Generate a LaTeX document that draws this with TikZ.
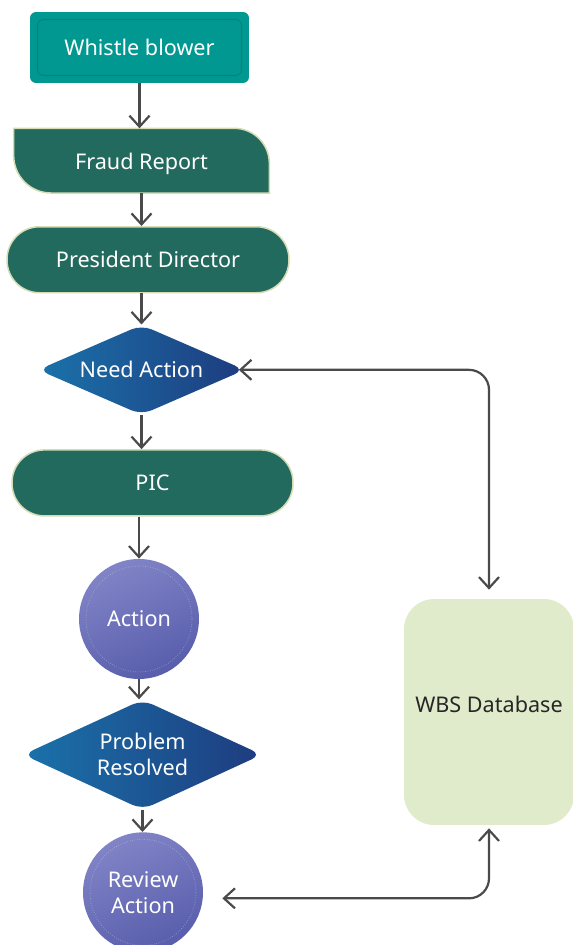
\documentclass[tikz,border=0pt]{standalone}
\usepackage{fontspec}
\setmainfont{Noto Sans}
\usetikzlibrary{shapes.geometric, arrows.meta, positioning, backgrounds}
\definecolor{blowerteal}{HTML}{009890}
\definecolor{blowerline}{HTML}{00857E}
\definecolor{reportgreen}{HTML}{236A5E}
\definecolor{paleedge}{HTML}{D3DCB5}
\definecolor{decideL}{HTML}{1A72AA}
\definecolor{decideR}{HTML}{1E3C7F}
\definecolor{circT}{HTML}{8184C6}
\definecolor{circB}{HTML}{585DAC}
\definecolor{dbfill}{HTML}{DFEBCB}
\definecolor{arrgray}{HTML}{4A4A4A}

\begin{document}
\begin{tikzpicture}[
  x=0.02cm, y=0.02cm,
  every node/.style={font=\fontsize{12.3}{14.7}\selectfont, text=white,
              align=center, inner sep=2pt},
  source/.style={rectangle, fill=blowerteal, rounded corners=0.12cm,
              minimum width=4.38cm, minimum height=1.42cm,
              path picture={\draw[blowerline, line width=0.6pt]
                ([shift={(0.15cm,0.15cm)}]path picture bounding box.south west) rectangle
                ([shift={(-0.15cm,-0.15cm)}]path picture bounding box.north east);}},
  report/.style={rectangle, minimum width=5.1cm, minimum height=1.28cm,
              text height=13pt, text depth=3pt},
  pill/.style={rectangle, fill=reportgreen, draw=paleedge, line width=0.85pt,
              rounded corners=0.65cm, minimum height=1.32cm},
  decide/.style={diamond, left color=decideL, right color=decideR,
              rounded corners=0.22cm, inner sep=0pt},
  act/.style={circle, top color=circT, bottom color=circB, shading angle=25,
              minimum size=2.4cm, inner sep=0pt,
              path picture={\draw[white, opacity=0.35, densely dotted, line width=0.4pt]
                (path picture bounding box.center) circle[radius=1.06cm];}},
  store/.style={rectangle, fill=dbfill, rounded corners=0.6cm, text=black!85,
              minimum width=3.4cm, minimum height=4.52cm,
              text height=9pt, text depth=9pt},
  arr/.style={draw=arrgray, line width=1.25pt,
              -{Straight Barb[length=0.22cm, width=0.4cm]}},
  biarr/.style={draw=arrgray, line width=1.25pt, rounded corners=0.4cm,
              {Straight Barb[length=0.22cm, width=0.4cm]}-{Straight Barb[length=0.22cm, width=0.4cm]}}]
\useasboundingbox (0,0) rectangle (572,-945);

\node[source] (blower) at (139.5,-47.5) {Whistle blower};
\node[report, below=0.9cm of blower, xshift=0.04cm] (fraud) {Fraud Report};
\node[pill, minimum width=5.64cm, below=0.66cm of fraud, xshift=0.13cm] (president) {President Director};
\node[decide, aspect=2.3, minimum width=4.14cm, minimum height=1.8cm,
      below=0.62cm of president, xshift=-0.13cm] (need) {Need Action};
\node[pill, minimum width=5.62cm, below=0.68cm of need, xshift=0.22cm] (pic) {PIC};
\node[act, below=0.84cm of pic, xshift=-0.27cm] (action) {Action};
\node[decide, aspect=2.17, minimum width=4.78cm, minimum height=2.2cm,
      below=0.4cm of action, xshift=0.07cm] (resolved) {Problem\\Resolved};
\node[act, below=0.44cm of resolved, xshift=0.01cm] (review) {Review\\Action};
\node[store] (wbs) at (489,-712) {WBS Database};

% report shape behind its label
\begin{scope}[on background layer]
\filldraw[fill=reportgreen, draw=paleedge, line width=0.85pt]
  (fraud.north west) -- ([xshift=-0.7cm]fraud.north east)
  arc[start angle=90, end angle=0, radius=0.7cm] -- (fraud.south east)
  -- ([xshift=0.75cm]fraud.south west)
  arc[start angle=270, end angle=180, radius=0.75cm] -- cycle;
\end{scope}

\draw[arr] (blower.south) -- (blower.south |- fraud.north);
\draw[arr] (fraud.south) -- (fraud.south |- president.north);
\draw[arr] (president.south -| need.north) -- (need.north);
\draw[arr] (need.south) -- (need.south |- pic.north);
\draw[arr] (pic.south -| action.north) -- (action.north);
\draw[arr] (action.south) -- (action.south |- resolved.north);
\draw[arr] (resolved.south) -- (resolved.south |- review.north);
\draw[biarr, shorten <=-0.13cm, shorten >=0.18cm] (need.east) -| (wbs.north);
\draw[biarr, shorten <=0.38cm, shorten >=0.06cm] ([yshift=-0.12cm]review.east) -| (wbs.south);
\end{tikzpicture}
\end{document}
